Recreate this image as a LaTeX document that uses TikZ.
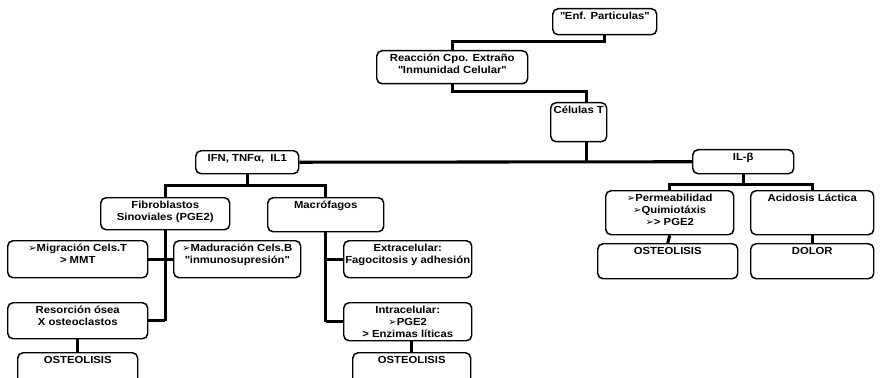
\documentclass[tikz,border=0pt]{standalone}
\usepackage{fontspec}
\setmainfont{Liberation Sans}[FakeStretch=1.1]
\newfontfamily\simbolos{DejaVu Sans}
\usepackage{tikz}
\newlength{\px}
\setlength{\px}{0.75pt}
\newcommand{\flecha}{{\simbolos\fontsize{7.5}{7.5}\selectfont\char"27A2}}
\newcommand{\cm}{\textquotedbl}
\newcommand{\texto}[3]{\parbox[c][#2\px][t]{#1\px}{\makebox[\linewidth]{%
   \begin{tabular}[t]{@{}c@{}}\rule{0pt}{8pt}#3\end{tabular}}}}

\begin{document}
\begin{tikzpicture}[x=0.75pt,y=-0.75pt,
   caja/.style={draw,rounded corners=4pt,line width=1.1pt,inner sep=0pt,anchor=north west,
     font=\fontsize{7.7}{9}\selectfont\bfseries},
   enlace/.style={line width=2.3pt}]
   \clip (0,0) rectangle (886,378);
   % arriba
   \node[caja] (enf) at (552,8) {\texto{104}{26}{\cm Enf. Particulas\cm}};
   \node[caja] (reac) at (376,50) {\texto{151}{33}{Reacción Cpo. Extraño\\\cm Inmunidad Celular\cm}};
   \node[caja] (celt) at (550,102) {\texto{56}{39}{Células T}};
   \node[caja] (ifn) at (195,150) {\texto{103}{23}{IFN, TNFα,\ \ IL1}};
   \node[caja] (ilb) at (692,149) {\texto{101}{24}{IL-β}};
   % izquierda
   \node[caja] (fib) at (100,197) {\texto{129}{32}{Fibroblastos\\Sinoviales (PGE2)}};
   \node[caja] (mac) at (267,197) {\texto{116}{34}{Macrófagos}};
   \node[caja] (mig) at (7,240) {\texto{140}{37}{\flecha Migración Cels.T\\> MMT}};
   \node[caja] (mad) at (173,240) {\texto{127}{37}{\flecha Maduración Cels.B\\\cm inmunosupresión\cm}};
   \node[caja] (res) at (7,302) {\texto{140}{36}{Resorción ósea\\X osteoclastos}};
   \node[caja] (ost1) at (17,352) {\texto{120}{34}{OSTEOLISIS}};
   \node[caja] (extra) at (343,240) {\texto{128}{37}{Extracelular:\\Fagocitosis y adhesión}};
   \node[caja] (intra) at (343,302) {\texto{128}{38}{Intracelular:\\\flecha PGE2\\> Enzimas líticas}};
   \node[caja] (ost2) at (352,352) {\texto{118}{34}{OSTEOLISIS}};
   % derecha
   \node[caja] (perm) at (605,190) {\texto{128}{44}{\flecha Permeabilidad\\\flecha Quimiotáxis\\\flecha> PGE2}};
   \node[caja] (acid) at (750,190) {\texto{123}{44}{Acidosis Láctica}};
   \node[caja] (ost3) at (597,243) {\texto{140}{35}{OSTEOLISIS}};
   \node[caja] (dolor) at (750,243) {\texto{123}{35}{DOLOR}};

   \draw[enlace] (enf.south) -- ++(0,6) -| (reac.north);
   \draw[enlace] (reac.south) -- ++(0,7) -| ([xshift=6pt]celt.north);
   \draw[enlace] ([xshift=6pt]celt.south) -- ([xshift=6pt]celt.south |- ifn.east);
   \draw[enlace] (ifn.east) -- (ilb.west);
   \draw[enlace] (ifn.south) -- ++(0,11) coordinate (rama1);
   \draw[enlace] (fib.north) |- (rama1) -| (mac.north);
   \draw[enlace] (fib.south) -- (fib.south |- res.east);
   \draw[enlace] (mig.east) -- (mad.west);
   \draw[enlace] (res.east) -- (fib.south |- res.east);
   \draw[enlace] (res.south) -- (ost1.north);
   \draw[enlace] (mac.south) -- (mac.south |- intra.west);
   \draw[enlace] (mac.south |- extra.west) -- (extra.west);
   \draw[enlace] (mac.south |- intra.west) -- (intra.west);
   \draw[enlace] (ost2.north) -- (ost2.north |- intra.south);
   \draw[enlace] (ilb.south) -- ++(0,10) coordinate (rama2);
   \draw[enlace] (perm.north) |- (rama2) -| (acid.north);
   \draw[enlace] (perm.south) -- (ost3.north);
   \draw[enlace] (acid.south) -- (dolor.north);
\end{tikzpicture}
\end{document}
